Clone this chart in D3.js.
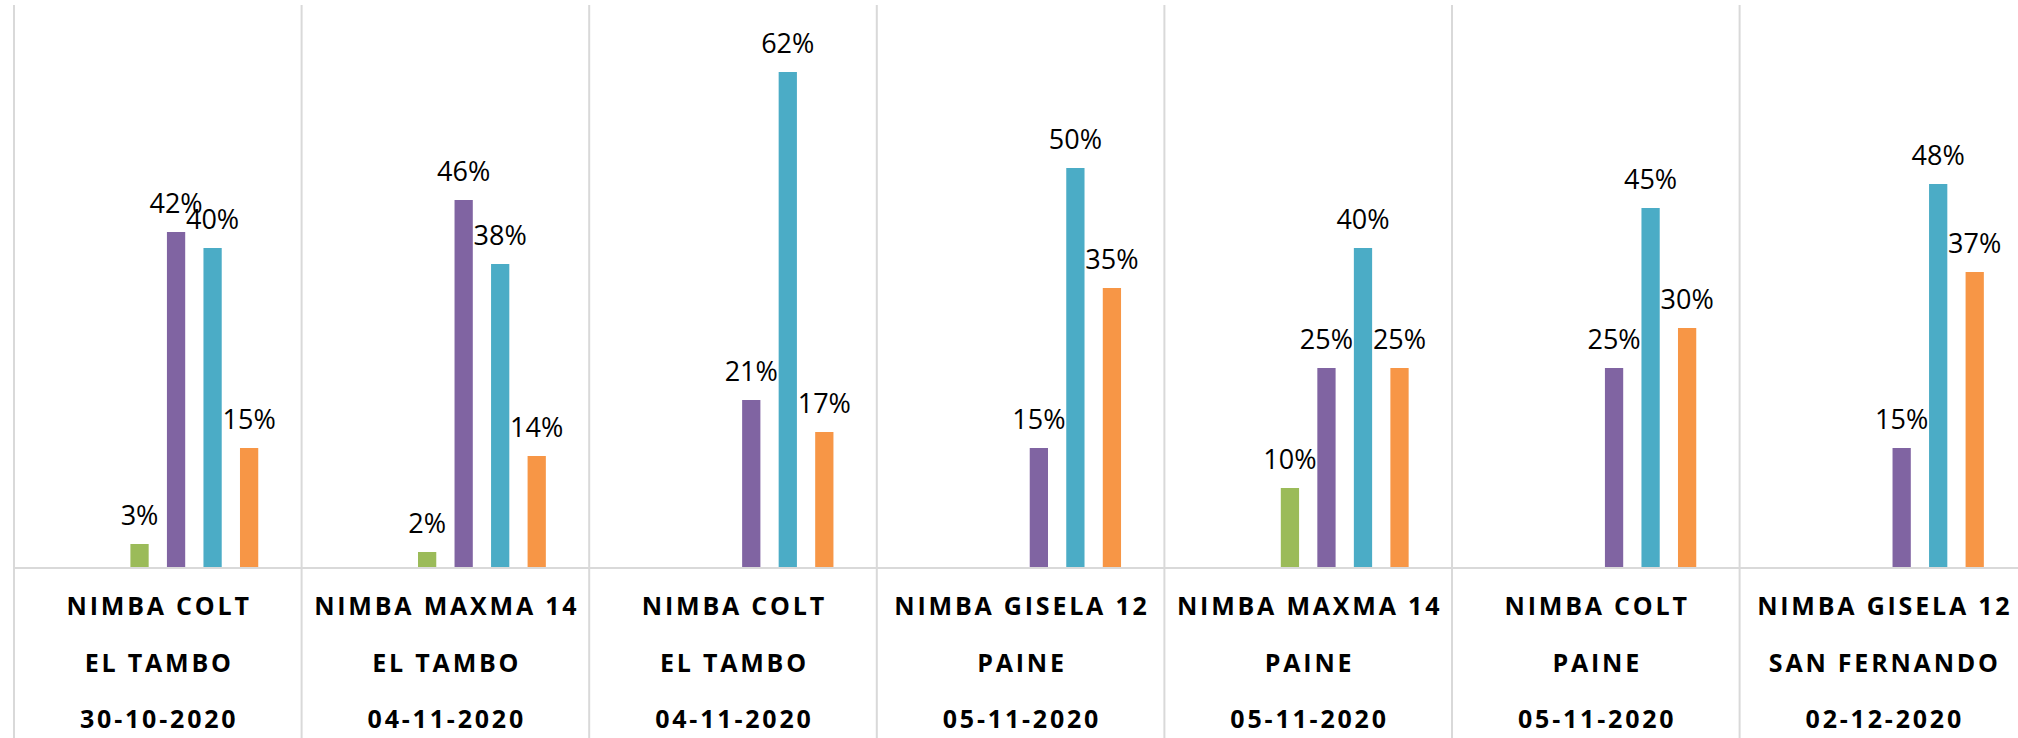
<!DOCTYPE html>
<html>
<head>
<meta charset="utf-8">
<script src="https://cdn.jsdelivr.net/npm/d3@7"></script>
<style>
    html, body { margin: 0; padding: 0; background: #ffffff; overflow: hidden; }
</style>
</head>
<body>
<div id="chart"></div>
<script>
const varieties = ["NIMBA COLT", "NIMBA MAXMA 14", "NIMBA COLT", "NIMBA GISELA 12", "NIMBA MAXMA 14", "NIMBA COLT", "NIMBA GISELA 12"];
const places = ["EL TAMBO", "EL TAMBO", "EL TAMBO", "PAINE", "PAINE", "PAINE", "SAN FERNANDO"];
const dates = ["30-10-2020", "04-11-2020", "04-11-2020", "05-11-2020", "05-11-2020", "05-11-2020", "02-12-2020"];

const seriesKeys = ["serie1", "serie2", "serie3", "serie4"];
const serie1Values = [0.03, 0.02, null, null, 0.10, null, null];
const serie2Values = [0.42, 0.46, 0.21, 0.15, 0.25, 0.25, 0.15];
const serie3Values = [0.40, 0.38, 0.62, 0.50, 0.40, 0.45, 0.48];
const serie4Values = [0.15, 0.14, 0.17, 0.35, 0.25, 0.30, 0.37];

const seriesColors = ["#9bbb59", "#8064a2", "#4bacc6", "#f79646"];

class ClusterChart {
    constructor(canvasContainerSelector) {
        this.canvasContainerSelector = canvasContainerSelector;
        this.fullWidth = 2018;
        this.fullHeight = 738;
        this.plotLeft = 14;
        this.catWidth = 287.6;
        this.baseline = 568;
        this.plotTop = 5;
        this.pxPerUnit = 800;   // 1% = 8px
        this.data = varieties.map((v, i) => ({
            key: dates[i] + "|" + i,
            lines: [v, places[i], dates[i]],
            values: [serie1Values[i], serie2Values[i], serie3Values[i], serie4Values[i]]
        }));
    }

    createCanvas() {
        return d3.select(this.canvasContainerSelector)
            .append("svg")
            .attr("width", this.fullWidth)
            .attr("height", this.fullHeight);
    }

    createScales() {
        const x0 = d3.scaleBand()
            .domain(this.data.map(d => d.key))
            .range([this.plotLeft, this.plotLeft + this.catWidth * this.data.length]);
        const bw = x0.bandwidth();
        const x1 = d3.scaleBand()
            .domain(seriesKeys)
            .range([bw * 0.373, bw * 0.881])
            .paddingInner(0.5)
            .paddingOuter(0.25);
        const yMax = (this.baseline - this.plotTop) / this.pxPerUnit;
        const y = d3.scaleLinear()
            .domain([0, yMax])
            .range([this.baseline, this.plotTop]);
        return { x0, x1, y };
    }

    renderGrid(svg, x0) {
        const bounds = this.data.map(d => x0(d.key)).concat([x0.range()[1]]);
        svg.selectAll(".vgrid")
            .data(bounds)
            .enter().append("line")
            .attr("x1", d => d).attr("x2", d => d)
            .attr("y1", this.plotTop).attr("y2", this.fullHeight)
            .attr("stroke", "#d9d9d9")
            .attr("stroke-width", 2);

        svg.append("line")
            .attr("x1", this.plotLeft).attr("x2", x0.range()[1])
            .attr("y1", this.baseline).attr("y2", this.baseline)
            .attr("stroke", "#d9d9d9")
            .attr("stroke-width", 2);
    }

    renderBars(svg, x0, x1, y) {
        const groups = svg.selectAll(".group")
            .data(this.data)
            .enter().append("g")
            .attr("transform", d => "translate(" + x0(d.key) + ",0)");

        const cells = groups.selectAll("g.cell")
            .data(d => d.values.map((v, i) => ({ key: seriesKeys[i], value: v, color: seriesColors[i] }))
                .filter(c => c.value !== null))
            .enter().append("g");

        cells.append("rect")
            .attr("x", d => x1(d.key))
            .attr("width", x1.bandwidth())
            .attr("y", d => y(d.value))
            .attr("height", d => y(0) - y(d.value) - 1)
            .attr("fill", d => d.color);

        cells.append("text")
            .attr("x", d => x1(d.key) + x1.bandwidth() / 2)
            .attr("y", d => y(d.value) - 19)
            .attr("text-anchor", "middle")
            .attr("font-family", "'Open Sans', sans-serif")
            .attr("font-size", 27)
            .attr("fill", "#000")
            .text(d => d3.format(".0%")(d.value));
    }

    renderCategoryLabels(svg, x0) {
        const lineY = [615, 672, 728];
        const spacing = 2.8;
        const labels = svg.selectAll(".cat")
            .data(this.data)
            .enter().append("text")
            .attr("text-anchor", "middle")
            .attr("font-family", "'Open Sans', sans-serif")
            .attr("font-weight", "bold")
            .attr("font-size", 25)
            .attr("letter-spacing", spacing)
            .attr("fill", "#000");

        labels.selectAll("tspan")
            .data(d => d.lines.map(t => ({ t, cx: x0(d.key) + x0.bandwidth() / 2 })))
            .enter().append("tspan")
            .attr("x", d => d.cx + spacing / 2)
            .attr("y", (_, i) => lineY[i])
            .text(d => d.t);
    }

    build() {
        const svg = this.createCanvas();
        const { x0, x1, y } = this.createScales();
        this.renderGrid(svg, x0);
        this.renderBars(svg, x0, x1, y);
        this.renderCategoryLabels(svg, x0);
    }
}

new ClusterChart("#chart").build();
</script>
</body>
</html>
